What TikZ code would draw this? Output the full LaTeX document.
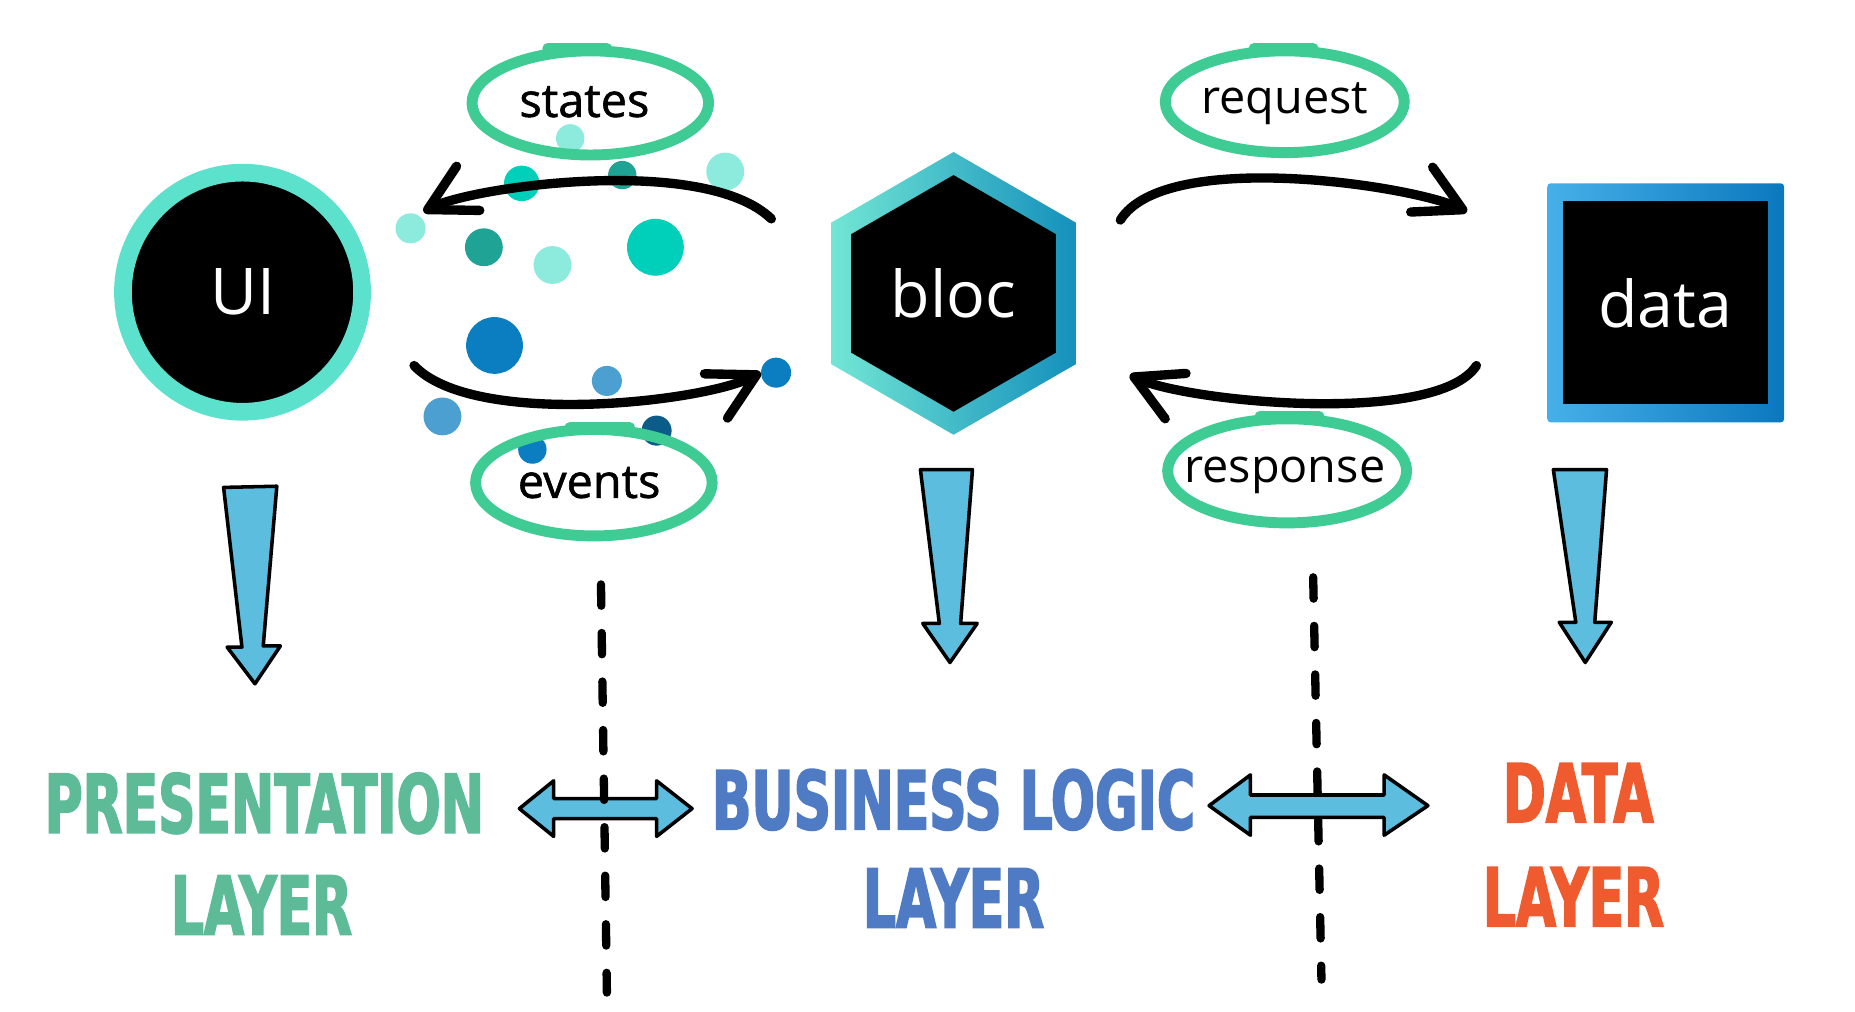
\documentclass[tikz,border=0pt]{standalone}
\usepackage{fontspec}
\setmainfont{Open Sans}
\newfontfamily\tagbold[FakeBold=1.2]{Open Sans}
\newfontfamily\layerfont[FakeStretch=0.64, FakeBold=2]{DejaVu Sans}
\usetikzlibrary{arrows.meta,shapes.geometric}

\definecolor{uiring}{HTML}{5CE1CC}
\definecolor{hexleft}{HTML}{72E6D4}
\definecolor{hexmid}{HTML}{12CDB4}
\definecolor{hexright}{HTML}{1490BC}
\definecolor{dataleft}{HTML}{45B0E8}
\definecolor{dataright}{HTML}{0B78BE}
\definecolor{ringgreen}{HTML}{3FCB94}
\definecolor{arrowblue}{HTML}{5CBDDE}
\definecolor{presgreen}{HTML}{5DBB98}
\definecolor{busblue}{HTML}{4F7BC4}
\definecolor{dataorange}{HTML}{EF5A2E}
\definecolor{dotpale}{HTML}{8CEBDD}
\definecolor{dotteal}{HTML}{00CFBA}
\definecolor{dotdark}{HTML}{1FA394}
\definecolor{dotblue}{HTML}{0B7EC2}
\definecolor{dotsky}{HTML}{4C9FD1}
\definecolor{dotnavy}{HTML}{0B5C88}

\tikzset{
    flow/.style={line width=9pt, line cap=round, -{Straight Barb[length=44pt,width=48pt,round]}},
    tagtext/.style={inner sep=0pt, outer sep=0pt, font=\fontsize{45}{50}\selectfont},
    tagring/.style={draw=ringgreen, line width=10.5pt, line cap=round},
    block/.style={text=white, inner sep=0pt, outer sep=0pt, font=\fontsize{62}{70}\selectfont},
    layer/.style={anchor=base, inner sep=0pt, font=\layerfont\bfseries\fontsize{78}{90}\selectfont},
    bigarrow/.style={fill=arrowblue, draw=black, line width=3.4pt, line join=round},
    border/.style={line width=8pt, line cap=round, dash pattern=on 20.5pt off 26.2pt},
}

\begin{document}
\begin{tikzpicture}[x=0.04cm, y=-0.04cm]
    \useasboundingbox[fill=white] (0,0) rectangle (1568,854.6);

    % particles
    \foreach \x/\y/\r/\c in {482/117/12/dotpale, 441/155/15/dotteal, 526/148/12/dotdark,
        613/145/16/dotpale, 347/193/12.7/dotpale, 409/209/16/dotdark, 467/224/16/dotpale,
        554/209/24/dotteal, 418/292/24/dotblue, 513/322/12.7/dotsky, 656/315/12.7/dotblue,
        374/352/16/dotsky, 555/364/12.7/dotnavy, 450/380/12/dotblue}
        \fill[\c] (\x,\y) circle (\r);

    % the three blocks
    \node[circle, fill=black, draw=uiring, line width=17pt, minimum size=230pt, block] (ui) at (205,247) {UI};
    \shade[left color=hexleft, middle color=hexmid, right color=hexright]
        (806,128.5) -- (702.5,188.25) -- (702.5,307.75) -- (806,367.5) -- (909.5,307.75) -- (909.5,188.25) -- cycle;
    \node[regular polygon, regular polygon sides=6, shape border rotate=30, fill=black,
        minimum size=227.6pt, block] (bloc) at (806,248) {bloc};
    \shade[left color=dataleft, right color=dataright, rounded corners=3] (1308,155) rectangle (1508,357);
    \node[fill=black, minimum width=197pt, minimum height=195pt, block] (data) at (1407.5,256) {data};

    % circled labels
    \node[tagtext] (states) at (494,86) {\tagbold states};
    \node[tagtext] (events) at (498,408) {\tagbold events};
    \node[tagtext] (request) at (1086,88) {request};
    \node[tagtext] (response) at (1086,402) {response};
    \draw[tagring] (499,87) ellipse [x radius=100, y radius=44];
    \draw[tagring] (502,408) ellipse [x radius=100, y radius=45];
    \draw[tagring] (1086,86) ellipse [x radius=101, y radius=43];
    \draw[tagring] (1088,398) ellipse [x radius=101, y radius=44];
    \draw[tagring] (463,41) -- (513,41);
    \draw[tagring] (482,361) -- (532,361);
    \draw[tagring] (1060,41) -- (1110,41);
    \draw[tagring] (1065,352) -- (1115,352);

    % flows
    \coordinate (sa) at (652,185);
    \coordinate (sb) at (358,179);
    \coordinate (ea) at (350,309);
    \coordinate (eb) at (643,315);
    \coordinate (ra) at (947,186);
    \coordinate (rb) at (1240,179);
    \coordinate (pa) at (1248,309);
    \coordinate (pb) at (955,317);
    \draw[flow] (sa) .. controls (595,130) and (398,158) .. (sb);
    \draw[flow] (ea) .. controls (400,362) and (595,340) .. (eb);
    \draw[flow] (ra) .. controls (985,125) and (1195,157) .. (rb);
    \draw[flow] (pa) .. controls (1215,360) and (1005,340) .. (pb);

    % down arrows
    \draw[bigarrow] (189,412) -- (234,411) -- (222.5,546) -- (237,546) -- (215.5,578) -- (192,547) -- (204.5,547) -- cycle;
    \draw[bigarrow] (778,397) -- (822,397) -- (812,527) -- (826,527) -- (803,560) -- (780,527) -- (794,527) -- cycle;
    \draw[bigarrow] (1313,397) -- (1358,397) -- (1348,526) -- (1362,526) -- (1340,560) -- (1318,526) -- (1332,526) -- cycle;

    % layers
    \node[layer, text=presgreen] (pres) at (223.5,704) {PRESENTATION};
    \node[layer, text=presgreen] (preslayer) at (221,790) {LAYER};
    \node[layer, text=busblue] (bus) at (806,701) {BUSINESS LOGIC};
    \node[layer, text=busblue] (buslayer) at (806,784) {LAYER};
    \node[layer, text=dataorange] (dat) at (1334,695) {DATA};
    \node[layer, text=dataorange] (datlayer) at (1330,783) {LAYER};

    % double arrows
    \draw[bigarrow] (439,683.5) -- (468,660) -- (468,675) -- (555,675) -- (555,660) -- (585,683.5) -- (555,707)
        -- (555,692) -- (468,692) -- (468,707) -- cycle;
    \draw[bigarrow] (1022,681) -- (1057,655) -- (1057,672) -- (1170,672) -- (1170,655) -- (1207,681) -- (1170,706)
        -- (1170,691) -- (1057,691) -- (1057,706) -- cycle;

    % borders
    \draw[border] (508,494) -- (513,839);
    \draw[border] (1110,488) -- (1117,828);
\end{tikzpicture}
\end{document}
